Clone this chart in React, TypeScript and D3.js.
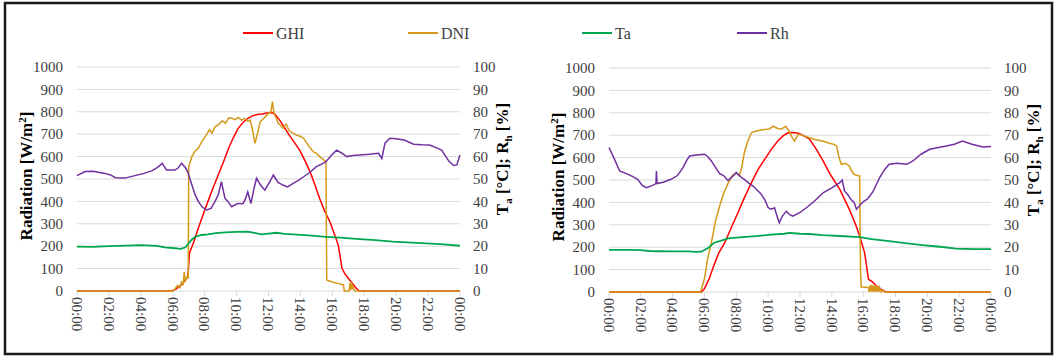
import * as React from "react";
import * as d3 from "d3";

// hours of day -> value
const hourTicks = [0, 2, 4, 6, 8, 10, 12, 14, 16, 18, 20, 22, 24];
const hourLabels = ["00:00", "02:00", "04:00", "06:00", "08:00", "10:00", "12:00", "14:00", "16:00", "18:00", "20:00", "22:00", "00:00"];
const radTicks = [0, 100, 200, 300, 400, 500, 600, 700, 800, 900, 1000];
const pctTicks = [0, 10, 20, 30, 40, 50, 60, 70, 80, 90, 100];

const seriesNames = ["GHI", "DNI", "Ta", "Rh"];
const seriesColors = ["#ff0000", "#d4991a", "#00a650", "#7030a0"];

// day 1 (left)
const ghi1 = [[0, 0], [5.9, 0], [6.2, 8], [6.5, 25], [6.7, 42], [6.95, 64], [7.05, 170], [7.3, 215], [7.6, 280], [7.9, 340], [8.2, 399], [8.5, 455], [8.85, 518], [9.2, 580], [9.5, 637], [9.8, 685], [10.1, 726], [10.4, 752], [10.7, 771], [11.0, 782], [11.3, 788], [11.6, 790], [11.9, 795], [12.2, 797], [12.4, 790], [12.7, 763], [13.0, 730], [13.3, 696], [13.65, 660], [13.95, 629], [14.3, 580], [14.6, 533], [14.9, 475], [15.2, 414], [15.5, 360], [15.85, 309], [16.1, 260], [16.37, 205], [16.5, 150], [16.6, 101], [16.8, 75], [17.0, 57], [17.25, 35], [17.5, 12], [17.7, 0], [24, 0]];
const dni1 = [[0, 0], [6.0, 0], [6.15, 10], [6.3, 25], [6.45, 15], [6.55, 40], [6.65, 30], [6.72, 86], [6.78, 45], [6.9, 64], [6.97, 60], [7.0, 555], [7.2, 600], [7.4, 625], [7.6, 637], [7.85, 670], [8.1, 696], [8.3, 720], [8.45, 705], [8.65, 733], [8.9, 745], [9.1, 760], [9.3, 748], [9.5, 772], [9.7, 771], [9.9, 765], [10.1, 775], [10.3, 763], [10.5, 770], [10.7, 758], [10.85, 763], [11.0, 720], [11.15, 659], [11.3, 700], [11.48, 756], [11.7, 770], [12.0, 793], [12.15, 800], [12.25, 845], [12.35, 790], [12.5, 770], [12.6, 750], [12.75, 740], [12.9, 726], [13.1, 745], [13.3, 715], [13.55, 704], [13.8, 695], [14.0, 690], [14.2, 682], [14.4, 660], [14.6, 640], [14.8, 622], [15.0, 615], [15.2, 600], [15.35, 592], [15.6, 577], [15.65, 49], [16.0, 40], [16.4, 33], [16.7, 27], [16.75, 0], [17.05, 0], [17.1, 35], [17.15, 5], [17.2, 40], [17.25, 8], [17.3, 20], [17.4, 0], [24, 0]];
const ta1 = [[0, 19.8], [1, 19.7], [2, 20.0], [3, 20.3], [4, 20.5], [5, 20.1], [5.5, 19.5], [6, 19.2], [6.5, 18.8], [6.8, 19.5], [7, 21.3], [7.2, 23], [7.4, 24.2], [7.8, 25], [8.2, 25.3], [8.7, 25.8], [9.3, 26.2], [10, 26.4], [10.7, 26.5], [11.2, 25.8], [11.55, 25.3], [12, 25.6], [12.5, 26.0], [13, 25.5], [13.55, 25.3], [14.5, 24.8], [15.6, 24.2], [16.5, 23.8], [17.7, 23.2], [18.5, 22.8], [19.8, 22.0], [21, 21.6], [21.9, 21.3], [23, 20.8], [24, 20.2]];
const rh1 = [[0, 51.5], [0.5, 53.3], [1, 53.5], [1.75, 52.5], [2.1, 51.8], [2.4, 50.6], [3, 50.4], [3.63, 51.5], [4.2, 52.5], [4.68, 53.6], [5.0, 55], [5.35, 57], [5.6, 54], [6.14, 54], [6.35, 55], [6.55, 57], [6.8, 55], [6.93, 53.3], [7.2, 47.3], [7.4, 43], [7.6, 39.9], [7.85, 37.5], [8.12, 36.2], [8.4, 36.9], [8.65, 40], [8.85, 42.9], [9.05, 48.8], [9.27, 41.4], [9.45, 40], [9.69, 37.6], [9.9, 38.5], [10.1, 39.1], [10.4, 39], [10.55, 41], [10.7, 44.3], [10.9, 39], [11.1, 46], [11.25, 50.3], [11.5, 47.3], [11.77, 45], [12.1, 49], [12.3, 51.8], [12.6, 48.5], [12.9, 47.3], [13.2, 46.5], [13.55, 48], [13.9, 49.5], [14.2, 51], [14.6, 53], [15.0, 55.5], [15.3, 56.5], [15.6, 57.7], [16.0, 61], [16.27, 62.9], [16.6, 61.5], [16.9, 60], [17.3, 60.5], [17.7, 60.7], [18.3, 61], [18.9, 61.5], [19.1, 59.2], [19.3, 66], [19.6, 68.2], [20.0, 68], [20.5, 67.4], [21.1, 65.5], [21.6, 65.3], [22.1, 65.2], [22.5, 64], [22.85, 62.9], [23.3, 58], [23.6, 56], [23.8, 56.3], [24, 60.7]];

// day 2 (right)
const ghi2 = [[0, 0], [5.8, 0], [6.0, 15], [6.3, 60], [6.6, 120], [6.9, 175], [7.27, 220], [7.7, 290], [8.1, 354], [8.5, 420], [8.95, 488], [9.35, 545], [9.78, 592], [10.2, 637], [10.6, 674], [10.95, 698], [11.25, 711], [11.6, 712], [11.95, 708], [12.3, 695], [12.6, 682], [13.0, 640], [13.4, 592], [13.9, 525], [14.5, 458], [15.1, 369], [15.5, 300], [15.75, 250], [16.06, 175], [16.3, 57], [16.55, 45], [16.8, 27], [17.1, 12], [17.4, 0], [24, 0]];
const dni2 = [[0, 0], [5.75, 0], [6.0, 60], [6.2, 150], [6.43, 220], [6.7, 320], [6.95, 384], [7.2, 440], [7.5, 488], [7.75, 520], [8.0, 533], [8.2, 520], [8.35, 560], [8.5, 622], [8.7, 670], [8.95, 711], [9.2, 718], [9.5, 722], [9.8, 726], [10.1, 728], [10.3, 740], [10.6, 730], [10.85, 728], [11.1, 740], [11.3, 720], [11.5, 690], [11.65, 674], [11.9, 705], [12.3, 696], [12.6, 689], [13.0, 680], [13.4, 674], [13.8, 665], [14.1, 660], [14.3, 652], [14.45, 600], [14.6, 570], [14.85, 575], [15.1, 562], [15.25, 540], [15.4, 525], [15.6, 520], [15.75, 518], [15.8, 100], [15.85, 22], [16.3, 20], [16.35, 0], [16.4, 30], [16.45, 2], [16.5, 32], [16.55, 0], [16.6, 28], [16.65, 3], [16.7, 30], [16.75, 0], [16.8, 30], [16.85, 2], [16.9, 25], [16.95, 0], [17.0, 20], [17.1, 0], [17.2, 8], [17.3, 0], [24, 0]];
const ta2 = [[0, 18.8], [1, 18.8], [2, 18.7], [2.5, 18.3], [3, 18.2], [4, 18.1], [5, 18.1], [5.4, 17.9], [5.8, 18], [6.2, 19.5], [6.6, 22.0], [7.0, 22.8], [7.5, 23.9], [8, 24.3], [8.6, 24.6], [9.2, 24.9], [10, 25.5], [11, 26], [11.35, 26.4], [12, 26], [12.6, 25.9], [13.4, 25.4], [14.5, 25], [15.75, 24.5], [16.5, 23.6], [17.6, 22.7], [18.6, 21.8], [19.7, 20.9], [20.8, 20.2], [21.8, 19.4], [23, 19.1], [24, 19.1]];
const rh2 = [[0, 64.5], [0.3, 60], [0.67, 54], [1.2, 52.5], [1.5, 51.5], [1.8, 50.3], [2.1, 47.5], [2.35, 46.6], [2.7, 47.5], [2.95, 48.4], [2.98, 54], [3.02, 48.4], [3.4, 49], [3.9, 50.3], [4.3, 52], [4.65, 55.5], [4.9, 59], [5.07, 60.7], [5.5, 61.2], [6, 61.5], [6.2, 60.5], [6.43, 58.5], [6.7, 55.5], [6.95, 52.8], [7.2, 52], [7.47, 49.8], [7.75, 51.5], [8, 53.3], [8.25, 51.5], [8.5, 50.3], [8.8, 48.5], [9.05, 47.3], [9.3, 45.5], [9.57, 43.6], [9.8, 41], [10, 37.6], [10.2, 37], [10.4, 37.6], [10.55, 34], [10.7, 30.9], [10.9, 34], [11.15, 36], [11.35, 34.5], [11.55, 33.9], [12, 35.5], [12.4, 37.6], [12.9, 40.5], [13.45, 44.3], [14, 46.5], [14.5, 48.8], [14.65, 50], [14.8, 45], [15.0, 43.5], [15.2, 41.3], [15.4, 40], [15.55, 36.9], [15.8, 39], [16.0, 40.5], [16.2, 41.3], [16.4, 43], [16.6, 45], [16.8, 48], [17, 51], [17.3, 54.5], [17.6, 57], [18.1, 57.5], [18.7, 57], [19.1, 58.5], [19.6, 61.5], [20.15, 63.7], [20.7, 64.5], [21.2, 65.2], [21.7, 66], [22.2, 67.4], [22.8, 66], [23.5, 64.7], [24, 65]];

const FONT = { fontFamily: "Liberation Serif" };
const TEXT = "#404040";
const GRID = "#d9d9d9";

const Panel = ({ x0, x1, yTop, yBottom, ghi, dni, ta, rh }) => {
  const x = d3.scaleLinear().domain([0, 24]).range([x0, x1]);
  const yRad = d3.scaleLinear().domain([0, 1000]).range([yBottom, yTop]);
  const yPct = d3.scaleLinear().domain([0, 100]).range([yBottom, yTop]);

  const lineRad = d3.line().x((d) => x(d[0])).y((d) => yRad(d[1]));
  const linePct = d3.line().x((d) => x(d[0])).y((d) => yPct(d[1]));
  const midY = (yTop + yBottom) / 2;

  return (
    <g>
      {radTicks.map((t) => (
        <line key={"g" + t} x1={x0} x2={x1} y1={yRad(t)} y2={yRad(t)} stroke={GRID} strokeWidth={1} />
      ))}
      {hourTicks.map((h) => (
        <line key={"t" + h} x1={x(h)} x2={x(h)} y1={yBottom} y2={yBottom + 5} stroke={GRID} strokeWidth={1} />
      ))}
      {radTicks.map((t) => (
        <text key={"l" + t} x={x0 - 14} y={yRad(t)} dy="0.35em" textAnchor="end" fontSize={15} fill={TEXT} style={FONT}>{t}</text>
      ))}
      {pctTicks.map((t) => (
        <text key={"r" + t} x={x1 + 13} y={yPct(t)} dy="0.35em" textAnchor="start" fontSize={15} fill={TEXT} style={FONT}>{t}</text>
      ))}
      {hourTicks.map((h, i) => (
        <text key={"x" + i} transform={`translate(${x(h)},${yBottom + 6}) rotate(90)`} dy="0.35em" textAnchor="start" fontSize={15} fill={TEXT} style={FONT}>{hourLabels[i]}</text>
      ))}
      <text transform={`translate(${x0 - 51},${midY - 3}) rotate(-90)`} textAnchor="middle" dy="0.35em" fontSize={17} fontWeight="bold" fill="#000" style={FONT}>
        Radiation [W/m<tspan dy="-6" fontSize={11}>2</tspan><tspan dy="6">]</tspan>
      </text>
      <text transform={`translate(${x1 + 42},${midY - 20}) rotate(-90)`} textAnchor="middle" dy="0.35em" fontSize={17} fontWeight="bold" fill="#000" style={FONT}>
        T<tspan dy="4" fontSize={11}>a</tspan><tspan dy="-4"> [°C]; R</tspan><tspan dy="4" fontSize={11}>h</tspan><tspan dy="-4"> [%]</tspan>
      </text>
      <path d={lineRad(ghi)} fill="none" stroke={seriesColors[0]} strokeWidth={1.5} />
      <path d={lineRad(dni)} fill="none" stroke={seriesColors[1]} strokeWidth={1.5} />
      <path d={linePct(ta)} fill="none" stroke={seriesColors[2]} strokeWidth={1.8} />
      <path d={linePct(rh)} fill="none" stroke={seriesColors[3]} strokeWidth={1.5} />
    </g>
  );
};

const legendX = [243, 408, 582, 737];

export default function App() {
  return (
    <svg width={1057} height={357} style={{ position: "absolute", left: 0, top: 0, background: "#fff", fontFamily: "Liberation Serif" }}>
      <rect x={5} y={3} width={1047} height={351} fill="#fff" stroke="#1a1a1a" strokeWidth={2.5} />
      <g>
        {seriesNames.map((name, i) => (
          <g key={name}>
            <line x1={legendX[i]} x2={legendX[i] + 30} y1={33} y2={33} stroke={seriesColors[i]} strokeWidth={2} />
            <text x={legendX[i] + 33} y={33} dy="0.35em" fontSize={16} fill={TEXT} style={FONT}>{name}</text>
          </g>
        ))}
      </g>
      <Panel x0={77} x1={460} yTop={67} yBottom={291} ghi={ghi1} dni={dni1} ta={ta1} rh={rh1} />
      <Panel x0={609} x1={991} yTop={68} yBottom={292} ghi={ghi2} dni={dni2} ta={ta2} rh={rh2} />
    </svg>
  );
}
